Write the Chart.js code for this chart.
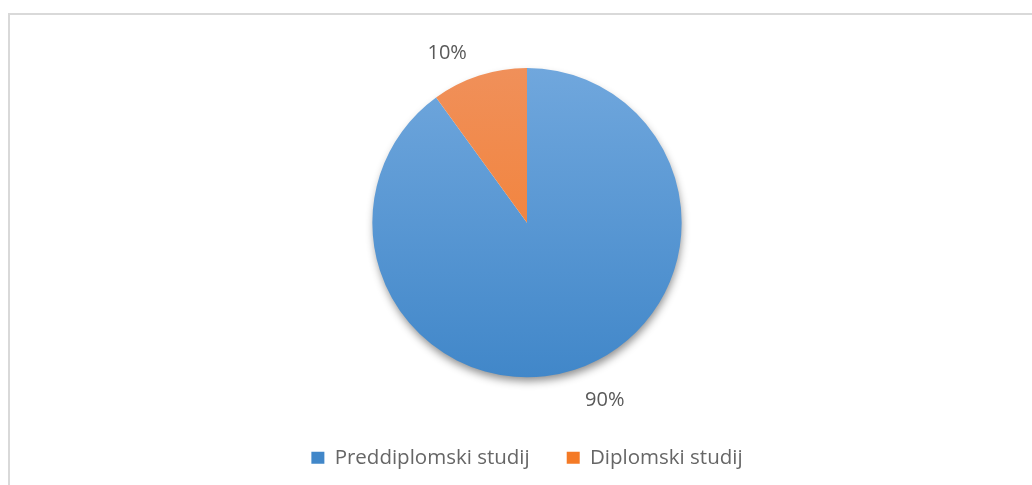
<!DOCTYPE html>
<html>
<head>
<meta charset="utf-8">
<script src="https://cdn.jsdelivr.net/npm/chart.js@4.4.0/dist/chart.umd.min.js"></script>
<style>
  html, body { margin: 0; padding: 0; background: #fff; }
  #cadre {
    position: absolute; left: 8px; top: 13px; width: 1040px; height: 490px;
    border: 2px solid #d9d9d9; box-sizing: border-box;
  }
  #zone { position: absolute; left: 0; top: 0; width: 1032px; height: 485px; }
</style>
</head>
<body>
<div id="cadre"></div>
<div id="zone"><canvas id="graphique_studij"></canvas></div>
<script>
// DONNEES DU GRAPHIQUE
const kategorije = ['Preddiplomski studij', 'Diplomski studij'];
const postoci = [90, 10];
const oznake = ['90%', '10%'];

// couleurs haut / bas du degrade
const bojeGore = ['#70a7dd', '#f0905a'];
const bojeDolje = ['#4187c9', '#f47a26'];

function degrade(context) {
    const chart = context.chart;
    const area = chart.chartArea;
    if (!area) return bojeDolje[context.dataIndex];
    const g = chart.ctx.createLinearGradient(0, area.top, 0, area.bottom);
    g.addColorStop(0, bojeGore[context.dataIndex]);
    g.addColorStop(1, bojeDolje[context.dataIndex]);
    return g;
}

// ombre sous le camembert
const sjena = {
    id: 'sjena',
    beforeDatasetsDraw(chart) {
        const arc = chart.getDatasetMeta(0).data[0];
        if (!arc) return;
        const ctx = chart.ctx;
        ctx.save();
        ctx.shadowColor = 'rgba(0,0,0,0.45)';
        ctx.shadowBlur = 9;
        ctx.shadowOffsetX = 1;
        ctx.shadowOffsetY = 5;
        ctx.fillStyle = '#ffffff';
        ctx.beginPath();
        ctx.arc(arc.x, arc.y, arc.outerRadius - 1, 0, Math.PI * 2);
        ctx.fill();
        ctx.restore();
    }
};

// etiquettes en dehors des parts
const etiquettes = {
    id: 'etiquettes',
    afterDatasetsDraw(chart) {
        const ctx = chart.ctx;
        ctx.save();
        ctx.font = '20px "Open Sans"';
        ctx.fillStyle = '#595959';
        chart.getDatasetMeta(0).data.forEach((arc, i) => {
            const ang = (arc.startAngle + arc.endAngle) / 2;
            const r = arc.outerRadius + 14;
            const x = arc.x + Math.cos(ang) * r;
            const y = arc.y + Math.sin(ang) * r;
            ctx.textAlign = Math.cos(ang) < 0 ? 'right' : 'left';
            ctx.textBaseline = Math.sin(ang) < 0 ? 'bottom' : 'top';
            ctx.fillText(oznake[i], x + (Math.cos(ang) < 0 ? -8 : 6), y + (Math.sin(ang) < 0 ? 1 : 7));
        });
        ctx.restore();
    }
};

new Chart(document.getElementById('graphique_studij'), {
    type: 'pie',
    data: {
        labels: kategorije,
        datasets: [{
            data: postoci,
            backgroundColor: degrade,
            borderWidth: 0,
        }]
    },
    options: {
        responsive: true,
        maintainAspectRatio: false,
        animation: false,
        layout: {
            padding: { top: 68, bottom: 7, left: 22, right: 0 }
        },
        plugins: {
            tooltip: { enabled: false },
            legend: {
                position: 'bottom',
                title: {
                    display: true,
                    text: '',
                    font: { size: 1 },
                    padding: { top: 0, bottom: 32 }
                },
                labels: {
                    boxWidth: 13,
                    boxHeight: 12,
                    padding: 37,
                    color: '#595959',
                    font: { family: 'Open Sans', size: 20.5 },
                    generateLabels(chart) {
                        return kategorije.map((k, i) => ({
                            text: k,
                            fillStyle: bojeDolje[i],
                            strokeStyle: bojeDolje[i],
                            lineWidth: 0,
                            index: i,
                        }));
                    }
                }
            }
        }
    },
    plugins: [sjena, etiquettes]
});
</script>
</body>
</html>
